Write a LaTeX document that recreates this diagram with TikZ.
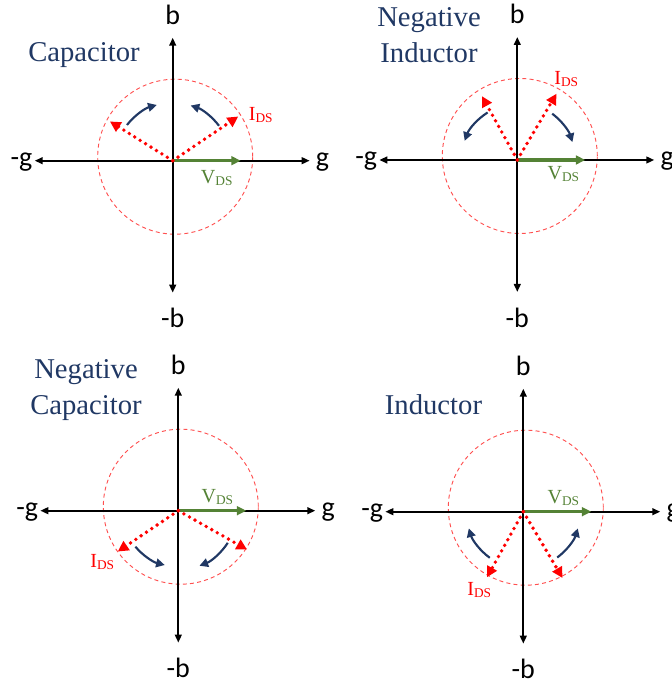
\documentclass[tikz,border=0pt]{standalone}
\usepackage{fontspec}
\setmainfont{Liberation Serif}
\newfontfamily\axfont{Carlito}
\usepackage{tikz}
\usetikzlibrary{arrows.meta,positioning}
\definecolor{navy}{RGB}{32,56,100}
\definecolor{vgreen}{RGB}{84,130,53}
\definecolor{ired}{RGB}{255,0,0}
\definecolor{cred}{RGB}{255,80,80}
\newcommand{\dsub}[1]{\raisebox{-1.6pt}{\fontsize{10}{10}\selectfont #1}}
\tikzset{
  ax/.style={{Triangle[length=6pt,width=5pt]}-{Triangle[length=6pt,width=5pt]}, line width=1.5pt},
  axl/.style={font=\axfont\fontsize{21}{21}\selectfont, inner sep=0pt},
  ttl/.style={font=\fontsize{21.5}{27}\selectfont, text=navy, align=center},
  ucirc/.style={draw=cred, line width=0.7pt, dash pattern=on 3pt off 2.4pt},
  vds/.style={-{Triangle[length=7pt,width=6.5pt]}, vgreen, line width=2.7pt},
  ids/.style={-{Triangle[length=8pt,width=8pt]}, ired, line width=2.9pt, line cap=round, dash pattern=on 0pt off 4.8pt},
  rot/.style={-{Triangle[length=6.5pt,width=6.5pt]}, navy, line width=1.6pt},
  vlab/.style={font=\fontsize{15}{15}\selectfont, text=vgreen, inner sep=0pt},
  ilab/.style={font=\fontsize{15}{15}\selectfont, text=ired, inner sep=0pt},
}
% axes, unit circle and V_DS of one panel
\newcommand{\gbaxes}[1]{%
  \coordinate (o#1) at (0,0);
  \coordinate (gp#1) at (137,0); \coordinate (gm#1) at (-138,0);
  \coordinate (bp#1) at (0,123); \coordinate (bm#1) at (0,-132);
  \draw[ucirc] (2.5,4) circle[radius=77.5];
  \draw[ax] (gm#1) -- (gp#1);
  \draw[ax] (bm#1) -- (bp#1);
  \node[axl, right=4.5pt of gp#1, yshift=-1pt] (g#1) {g};
  \node[axl, left=1.5pt of gm#1, yshift=-1pt] (mg#1) {-g};
  \node[axl, above=9.75pt of bp#1] (b#1) {b};
  \node[axl, below=11.5pt of bm#1] (mb#1) {-b};
  \coordinate (v#1) at (68,0);
  \draw[vds] (o#1) -- (v#1);
}

\begin{document}
\begin{tikzpicture}[x=0.75pt,y=0.75pt]
\useasboundingbox (0,0) rectangle (671,680);
% capacitor
\begin{scope}[shift={(172.7,519.3)}]
  \gbaxes{1}
  \coordinate (ir1) at (34:79); \coordinate (il1) at (148:74);
  \draw[ids] (o1) -- (ir1);
  \draw[ids] (o1) -- (il1);
  \draw[rot] (142:58) arc[start angle=142, end angle=106, radius=58];
  \draw[rot] (37:58) arc[start angle=37, end angle=72, radius=58];
  \node[ilab] (i1) at (88,46) {I\dsub{DS}};
  \node[vlab] (vl1) at (44,-17) {V\dsub{DS}};
\end{scope}
\node[ttl] (t1) at (84,624.5) {Capacitor};
% negative inductor
\begin{scope}[shift={(517.3,520)}]
  \gbaxes{2}
  \coordinate (ir2) at (59.4:77); \coordinate (il2) at (119:73);
  \draw[ids] (o2) -- (ir2);
  \draw[ids] (o2) -- (il2);
  \draw[rot] (122:56) arc[start angle=122, end angle=160, radius=56];
  \draw[rot] (53:58) arc[start angle=53, end angle=18, radius=58];
  \node[ilab] (i2) at (49,81) {I\dsub{DS}};
  \node[vlab] (vl2) at (46,-14) {V\dsub{DS}};
\end{scope}
\node[ttl] (t2) at (429,645) {Negative\\Inductor};
% negative capacitor
\begin{scope}[shift={(178.3,169.3)}]
  \gbaxes{3}
  \coordinate (ir3) at (-29.5:79); \coordinate (il3) at (214:73);
  \draw[ids] (o3) -- (ir3);
  \draw[ids] (o3) -- (il3);
  \draw[rot] (220:56) arc[start angle=220, end angle=256, radius=56];
  \draw[rot] (-33:59) arc[start angle=-33, end angle=-69, radius=59];
  \node[ilab] (i3) at (-76,-51) {I\dsub{DS}};
  \node[vlab] (vl3) at (39,14) {V\dsub{DS}};
\end{scope}
\node[ttl] (t3) at (86,290) {Negative\\Capacitor};
% inductor
\begin{scope}[shift={(523.3,168.3)}]
  \gbaxes{4}
  \coordinate (ir4) at (-59.4:77); \coordinate (il4) at (241:75);
  \draw[ids] (o4) -- (ir4);
  \draw[ids] (o4) -- (il4);
  \draw[rot] (234:57) arc[start angle=234, end angle=197, radius=57];
  \draw[rot] (-53.5:57) arc[start angle=-53.5, end angle=-17, radius=57];
  \node[ilab] (i4) at (-44,-78) {I\dsub{DS}};
  \node[vlab] (vl4) at (40,14) {V\dsub{DS}};
\end{scope}
\node[ttl] (t4) at (433.5,275) {Inductor};
\end{tikzpicture}
\end{document}
